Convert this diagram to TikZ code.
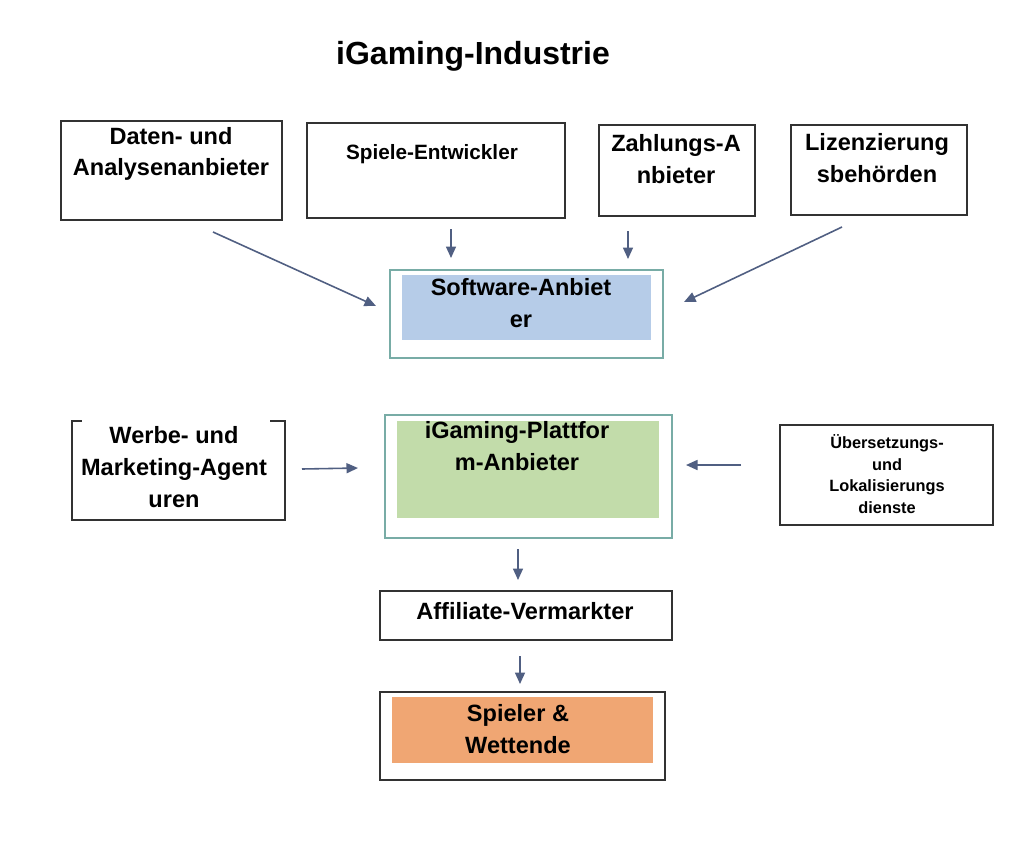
\documentclass[tikz,border=0pt]{standalone}
\usepackage{fontspec}
\setmainfont{Liberation Sans}
\usetikzlibrary{fit,arrows.meta}
\definecolor{frame}{RGB}{50,50,50}
\definecolor{teal}{RGB}{120,172,166}
\definecolor{bluefill}{RGB}{182,204,232}
\definecolor{greenfill}{RGB}{194,220,170}
\definecolor{orangefill}{RGB}{240,166,115}
\definecolor{arrowc}{RGB}{80,95,130}
\tikzset{
  box/.style={draw=frame, line width=1.1pt, inner sep=0pt, fill=white},
  tealbox/.style={draw=teal, line width=1.1pt, inner sep=0pt},
  filler/.style={inner sep=0pt, draw=none},
  txt/.style={font=\bfseries\fontsize{13.4}{18.1}\selectfont, align=center, inner sep=0pt},
  smalltxt/.style={font=\bfseries\fontsize{11.8}{15}\selectfont, align=center, inner sep=0pt},
  tinytxt/.style={font=\bfseries\fontsize{9.3}{12.2}\selectfont, align=center, inner sep=0pt},
  arr/.style={draw=arrowc, line width=0.9pt, -{Triangle[length=2.3mm,width=2mm]}},
}
\begin{document}
\begin{tikzpicture}[x=0.02cm,y=-0.02cm]
\useasboundingbox (0,0) rectangle (1024,863);
\fill[white] (0,0) rectangle (1024,863);

% title
\node[font=\bfseries\fontsize{18.2}{22}\selectfont, inner sep=0pt] (title) at (473,56) {iGaming-Industrie};

% top row
\node[box, fit={(61,121)(282,220)}] (A) {};
\node[txt] (At) at (171,154) {Daten- und\\Analysenanbieter};
\node[box, fit={(307,123)(565,218)}] (B) {};
\node[smalltxt] (Bt) at (432,154) {Spiele-Entwickler};
\node[box, fit={(599,125)(755,216)}] (C) {};
\node[txt] (Ct) at (676,159) {Zahlungs-A\\nbieter};
\node[box, fit={(791,125)(967,215)}] (D) {};
\node[txt] (Dt) at (877,158) {Lizenzierung\\sbehörden};

% software
\node[tealbox, fit={(390,270)(663,358)}] (E) {};
\node[filler, fill=bluefill, fit={(402,275)(651,340)}] (Ein) {};
\node[txt] (Et) at (521,303) {Software-Anbiet\\er};

% platform
\node[tealbox, fit={(385,415)(672,538)}] (F) {};
\node[filler, fill=greenfill, fit={(397,421)(659,518)}] (Fin) {};
\node[txt] (Ft) at (517,446) {iGaming-Plattfor\\m-Anbieter};

% werbe
\node[filler, fit={(72,421)(285,520)}] (G) {};
\draw[frame, line width=1.1pt] ([xshift=10*0.02cm]G.north west) -- (G.north west) -- (G.south west) -- (G.south east) -- (G.north east) -- ([xshift=-15*0.02cm]G.north east);
\node[txt] (Gt) at (174,467) {Werbe- und\\Marketing-Agent\\uren};

% uebersetzung
\node[box, fit={(780,425)(993,525)}] (H) {};
\node[tinytxt] (Ht) at (887,474) {Übersetzungs-\\und\\Lokalisierungs\\dienste};

% affiliate
\node[box, fit={(380,591)(672,640)}] (I) {};
\node[txt] (It) at (525,611) {Affiliate-Vermarkter};

% spieler
\node[box, fit={(380,692)(665,780)}] (J) {};
\node[filler, fill=orangefill, fit={(392,697)(653,763)}] (Jin) {};
\node[txt] (Jt) at (518,729) {Spieler \&\\Wettende};

% arrow endpoints
\coordinate (a1) at (213,232); \coordinate (a2) at (376,306);
\coordinate (b1) at (451,229); \coordinate (b2) at (451,258);
\coordinate (c1) at (628,231); \coordinate (c2) at (628,259);
\coordinate (d1) at (842,227); \coordinate (d2) at (684,302);
\coordinate (g1) at (302,469); \coordinate (g2) at (358,468);
\coordinate (h1) at (741,465); \coordinate (h2) at (686,465);
\coordinate (f1) at (518,549); \coordinate (f2) at (518,580);
\coordinate (i1) at (520,656); \coordinate (i2) at (520,684);

\draw[arr] (a1) -- (a2);
\draw[arr] (b1) -- (b2);
\draw[arr] (c1) -- (c2);
\draw[arr] (d1) -- (d2);
\draw[arr] (g1) -- (g2);
\draw[arr] (h1) -- (h2);
\draw[arr] (f1) -- (f2);
\draw[arr] (i1) -- (i2);
\end{tikzpicture}
\end{document}
